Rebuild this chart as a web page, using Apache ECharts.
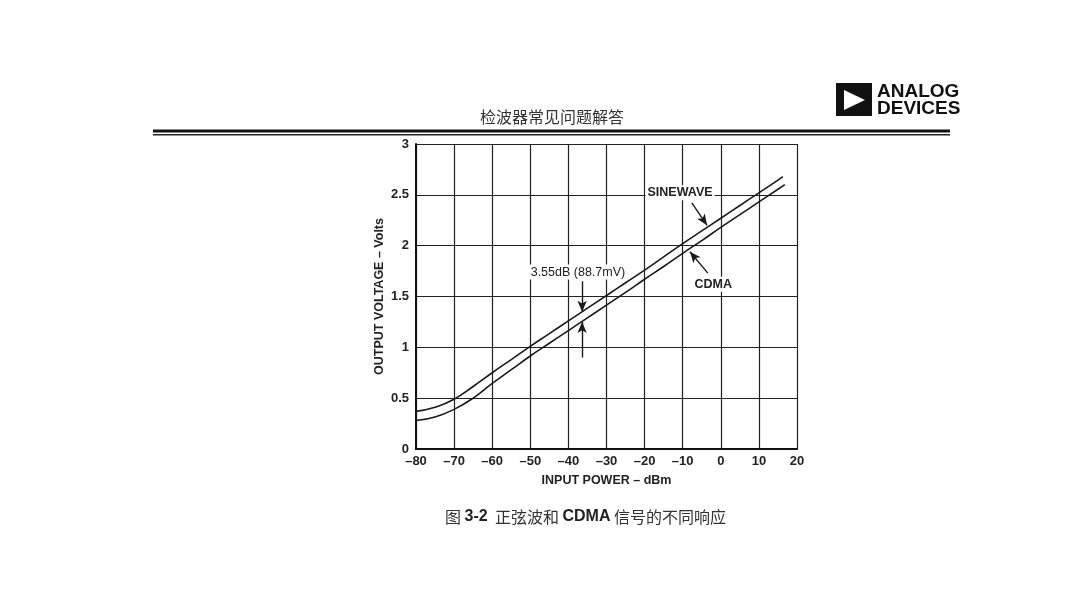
<!DOCTYPE html>
<html>
<head>
<meta charset="utf-8">
<script src="https://cdn.jsdelivr.net/npm/echarts@6/dist/echarts.min.js"></script>
<style>
html,body{margin:0;padding:0;background:#fff;}
#main{width:1080px;height:599px;}
</style>
</head>
<body>
<div id="main"></div>
<script>
// ---- data ----
var sinewaveX = [-80, -75, -70, -65, -60, -55, -50, -45, -40, -35, -30, -25, -20, -15, -10, -5, 0, 5, 10, 15, 16.3];
var sinewaveY = [0.37, 0.41, 0.49, 0.615, 0.75, 0.88, 1.01, 1.135, 1.26, 1.385, 1.51, 1.635, 1.76, 1.89, 2.02, 2.145, 2.27, 2.395, 2.52, 2.645, 2.68];
var cdmaX = [-80, -75, -70, -65, -60, -55, -50, -45, -40, -35, -30, -25, -20, -15, -10, -5, 0, 5, 10, 15, 16.8];
var cdmaY = [0.28, 0.315, 0.39, 0.50, 0.645, 0.78, 0.915, 1.04, 1.165, 1.29, 1.415, 1.54, 1.67, 1.795, 1.925, 2.05, 2.18, 2.305, 2.43, 2.555, 2.60];
var xTicks = [-80, -70, -60, -50, -40, -30, -20, -10, 0, 10, 20];
var yTicks = [0, 0.5, 1, 1.5, 2, 2.5, 3];
var headerTitle = '检波器常见问题解答';
var xAxisTitle = 'INPUT POWER – dBm';
var yAxisTitle = 'OUTPUT VOLTAGE – Volts';
var annSine = {text: 'SINEWAVE', at: [-10.7, 2.52], arrow: [[-7.6, 2.42], [-3.6, 2.20]]};
var annCdma = {text: 'CDMA', at: [-2.0, 1.62], arrow: [[-3.4, 1.73], [-8.1, 1.94]]};
var annGap = {text: '3.55dB (88.7mV)', at: [-37.5, 1.74], arrowDown: [[-36.4, 1.65], [-36.4, 1.35]], arrowUp: [[-36.4, 0.90], [-36.4, 1.25]]};

function pairs(xs, ys) { return xs.map(function (x, i) { return [x, ys[i]]; }); }

var labelFont = '"Liberation Sans", Arial, sans-serif';
var cjkFont = '"Noto Sans CJK SC", sans-serif';

var chart = echarts.init(document.getElementById('main'), null, {renderer: 'canvas'});

function arrowLine(seg) {
  return [{coord: seg[0], symbol: 'none'}, {coord: seg[1], symbol: 'arrow'}];
}

var option = {
  backgroundColor: '#ffffff',
  animation: false,
  grid: {left: 416, right: 283, top: 144, bottom: 150, containLabel: false},
  xAxis: {
    type: 'value', min: -80, max: 20, interval: 10,
    axisLine: {show: true, onZero: false, lineStyle: {color: '#111', width: 2}},
    axisTick: {show: false},
    splitLine: {show: true, lineStyle: {color: '#222', width: 1.2}},
    axisLabel: {
      color: '#222', fontFamily: labelFont, fontWeight: 'bold', fontSize: 13, margin: 6,
      formatter: function (v) { return v < 0 ? '–' + Math.abs(v) : String(v); }
    },
    name: xAxisTitle, nameLocation: 'middle', nameGap: 25,
    nameTextStyle: {color: '#222', fontFamily: labelFont, fontWeight: 'bold', fontSize: 12.5}
  },
  yAxis: {
    type: 'value', min: 0, max: 3, interval: 0.5,
    axisLine: {show: true, onZero: false, lineStyle: {color: '#111', width: 2}},
    axisTick: {show: false},
    splitLine: {show: true, lineStyle: {color: '#222', width: 1.2}},
    axisLabel: {
      color: '#222', fontFamily: labelFont, fontWeight: 'bold', fontSize: 13, margin: 7,
      formatter: function (v) { return String(v); }
    },
    name: yAxisTitle, nameLocation: 'middle', nameGap: 30, nameRotate: 90,
    nameTextStyle: {color: '#222', fontFamily: labelFont, fontWeight: 'bold', fontSize: 12.5}
  },
  series: [
    {
      name: 'SINEWAVE', type: 'line', data: pairs(sinewaveX, sinewaveY), smooth: 0.5,
      showSymbol: false, lineStyle: {color: '#1a1a1a', width: 1.6},
      markLine: {
        silent: true, symbolSize: [7, 11],
        lineStyle: {color: '#1a1a1a', width: 1.4, type: 'solid'},
        label: {show: false},
        data: [arrowLine(annSine.arrow), arrowLine(annCdma.arrow), arrowLine(annGap.arrowDown), arrowLine(annGap.arrowUp)]
      },
      markPoint: {
        silent: true, symbol: 'circle', symbolSize: 0,
        label: {show: true, position: 'inside', color: '#222', fontFamily: labelFont, fontWeight: 'bold', fontSize: 12.5,
          backgroundColor: '#ffffff', padding: [1, 2]},
        data: [
          {coord: annSine.at, value: annSine.text, label: {formatter: annSine.text}},
          {coord: annCdma.at, value: annCdma.text, label: {formatter: annCdma.text}},
          {coord: annGap.at, value: annGap.text, label: {formatter: annGap.text, fontWeight: 'normal'}}
        ]
      }
    },
    {
      name: 'CDMA', type: 'line', data: pairs(cdmaX, cdmaY), smooth: 0.5,
      showSymbol: false, lineStyle: {color: '#1a1a1a', width: 1.6}
    }
  ],
  graphic: [
    {type: 'text', left: 480, top: 109, style: {text: headerTitle, fontFamily: cjkFont, fontSize: 16, fill: '#333'}},
    {type: 'rect', shape: {x: 153, y: 129.5, width: 797, height: 3}, style: {fill: '#111'}},
    {type: 'rect', shape: {x: 153, y: 134, width: 797, height: 1.5}, style: {fill: '#222'}},
    {type: 'rect', shape: {x: 836, y: 83, width: 36, height: 33}, style: {fill: '#111'}},
    {type: 'polygon', shape: {points: [[844, 90], [844, 110], [865, 100]]}, style: {fill: '#fff'}},
    {type: 'text', left: 877, top: 82, style: {text: 'ANALOG', fontFamily: labelFont, fontWeight: 'bold', fontSize: 19, fill: '#111', letterSpacing: -1}},
    {type: 'text', left: 877, top: 99, style: {text: 'DEVICES', fontFamily: labelFont, fontWeight: 'bold', fontSize: 19, fill: '#111', letterSpacing: -1}},
    {type: 'text', left: 445, top: 509, style: {
      rich: {
        c: {fontFamily: cjkFont, fontSize: 16, fill: '#333'},
        b: {fontFamily: labelFont, fontWeight: 'bold', fontSize: 16, fill: '#222'}
      },
      text: '{c|图 }{b|3-2}{c|  正弦波和 }{b|CDMA}{c| 信号的不同响应}'
    }}
  ]
};
chart.setOption(option);
</script>
</body>
</html>
